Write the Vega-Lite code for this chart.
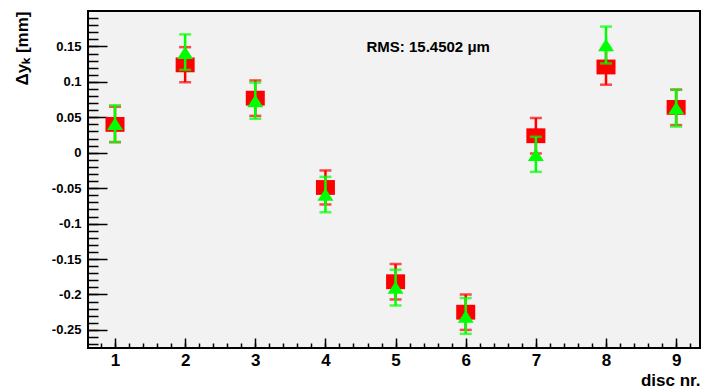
{
  "$schema": "https://vega.github.io/schema/vega-lite/v6.json",
  "width": 612,
  "height": 337,
  "autosize": {"type": "none"},
  "padding": {"left": 88, "top": 11, "right": 4, "bottom": 42},
  "background": "white",
  "config": {
    "view": {"fill": "#f2f2f2", "stroke": "black", "strokeWidth": 2},
    "font": "Liberation Sans",
    "axis": {"grid": false, "domain": false, "tickColor": "black", "labelColor": "black", "titleColor": "black", "labelFlush": false, "labelOverlap": false, "tickWidth": 1.5}
  },
  "data": {
    "values": [
      {"disc": 1, "series": "red", "value": 0.040, "lo": 0.015, "hi": 0.065},
      {"disc": 2, "series": "red", "value": 0.124, "lo": 0.0995, "hi": 0.149},
      {"disc": 3, "series": "red", "value": 0.077, "lo": 0.052, "hi": 0.102},
      {"disc": 4, "series": "red", "value": -0.049, "lo": -0.073, "hi": -0.025},
      {"disc": 5, "series": "red", "value": -0.182, "lo": -0.207, "hi": -0.157},
      {"disc": 6, "series": "red", "value": -0.225, "lo": -0.250, "hi": -0.200},
      {"disc": 7, "series": "red", "value": 0.024, "lo": -0.001, "hi": 0.049},
      {"disc": 8, "series": "red", "value": 0.121, "lo": 0.096, "hi": 0.146},
      {"disc": 9, "series": "red", "value": 0.064, "lo": 0.039, "hi": 0.089},
      {"disc": 1, "series": "green", "value": 0.041, "lo": 0.015, "hi": 0.067},
      {"disc": 2, "series": "green", "value": 0.141, "lo": 0.117, "hi": 0.167},
      {"disc": 3, "series": "green", "value": 0.073, "lo": 0.048, "hi": 0.099},
      {"disc": 4, "series": "green", "value": -0.059, "lo": -0.084, "hi": -0.034},
      {"disc": 5, "series": "green", "value": -0.190, "lo": -0.2155, "hi": -0.165},
      {"disc": 6, "series": "green", "value": -0.231, "lo": -0.2555, "hi": -0.205},
      {"disc": 7, "series": "green", "value": -0.003, "lo": -0.027, "hi": 0.0225},
      {"disc": 8, "series": "green", "value": 0.152, "lo": 0.126, "hi": 0.178},
      {"disc": 9, "series": "green", "value": 0.063, "lo": 0.037, "hi": 0.089}
    ]
  },
  "resolve": {"axis": {"x": "independent", "y": "independent"}},
  "layer": [
    {
      "layer": [
        {
          "transform": [{"filter": "datum.series == 'red'"}],
          "mark": {"type": "rule", "color": "#ff0000", "strokeWidth": 2.5},
          "encoding": {
            "x": {"field": "disc", "type": "quantitative", "scale": {"domain": [0.615, 9.34], "nice": false, "zero": false},
              "axis": {"orient": "bottom", "values": [1, 2, 3, 4, 5, 6, 7, 8, 9], "labelExpr": "'' + datum.value", "tickSize": -10, "labelPadding": 14, "labelFontSize": 17, "labelFontWeight": "bold", "title": "disc nr.", "titleFontSize": 17, "titleFontWeight": "bold", "titleAnchor": "end", "titleAlign": "right", "titleX": 612, "titleY": 32, "titleBaseline": "middle"}},
            "y": {"field": "lo", "type": "quantitative", "scale": {"domain": [-0.2755, 0.2], "nice": false, "zero": false},
              "axis": {"orient": "left", "values": [-0.25, -0.2, -0.15, -0.1, -0.05, 0, 0.05, 0.1, 0.15], "labelExpr": "'' + datum.value", "tickSize": -19, "labelPadding": 26, "labelFontSize": 13, "labelFontWeight": "bold", "title": "Δyₖ [mm]", "titleFontSize": 17, "titleFontWeight": "bold", "titleAngle": 270, "titleAnchor": "end", "titleAlign": "right", "titleX": -66, "titleY": 0, "titleBaseline": "middle"}},
            "y2": {"field": "hi"}
          }
        },
        {
          "transform": [{"filter": "datum.series == 'red'"}],
          "mark": {"type": "tick", "orient": "horizontal", "color": "#ff0000", "size": 12, "thickness": 2.5},
          "encoding": {"x": {"field": "disc", "type": "quantitative"}, "y": {"field": "lo", "type": "quantitative"}}
        },
        {
          "transform": [{"filter": "datum.series == 'red'"}],
          "mark": {"type": "tick", "orient": "horizontal", "color": "#ff0000", "size": 12, "thickness": 2.5},
          "encoding": {"x": {"field": "disc", "type": "quantitative"}, "y": {"field": "hi", "type": "quantitative"}}
        },
        {
          "transform": [{"filter": "datum.series == 'red'"}],
          "mark": {"type": "point", "shape": "M -1 -0.78 L 1 -0.78 L 1 0.78 L -1 0.78 Z", "size": 361, "filled": true, "color": "#ff0000", "opacity": 1, "strokeWidth": 0},
          "encoding": {"x": {"field": "disc", "type": "quantitative"}, "y": {"field": "value", "type": "quantitative"}}
        },
        {
          "transform": [{"filter": "datum.series == 'green'"}],
          "mark": {"type": "rule", "color": "#00ff00", "strokeWidth": 2.5},
          "encoding": {"x": {"field": "disc", "type": "quantitative"}, "y": {"field": "lo", "type": "quantitative"}, "y2": {"field": "hi"}}
        },
        {
          "transform": [{"filter": "datum.series == 'green'"}],
          "mark": {"type": "tick", "orient": "horizontal", "color": "#00ff00", "size": 12, "thickness": 2.5},
          "encoding": {"x": {"field": "disc", "type": "quantitative"}, "y": {"field": "lo", "type": "quantitative"}}
        },
        {
          "transform": [{"filter": "datum.series == 'green'"}],
          "mark": {"type": "tick", "orient": "horizontal", "color": "#00ff00", "size": 12, "thickness": 2.5},
          "encoding": {"x": {"field": "disc", "type": "quantitative"}, "y": {"field": "hi", "type": "quantitative"}}
        },
        {
          "transform": [{"filter": "datum.series == 'green'"}],
          "mark": {"type": "point", "shape": "M 0 -0.78 L 1 0.78 L -1 0.78 Z", "size": 256, "filled": true, "color": "#00ff00", "opacity": 1, "strokeWidth": 0},
          "encoding": {"x": {"field": "disc", "type": "quantitative"}, "y": {"field": "value", "type": "quantitative"}}
        }
      ]
    },
    {
      "data": {"values": [{"label": "RMS: 15.4502 μm"}]},
      "mark": {"type": "text", "fontSize": 15, "fontWeight": "bold", "color": "black", "align": "center", "baseline": "middle"},
      "encoding": {
        "text": {"field": "label"},
        "x": {"datum": 5.465, "type": "quantitative", "scale": {"domain": [0.615, 9.34], "nice": false, "zero": false},
          "axis": {"orient": "bottom", "values": [0.8, 1.0, 1.2, 1.4, 1.6, 1.8, 2.0, 2.2, 2.4, 2.6, 2.8, 3.0, 3.2, 3.4, 3.6, 3.8, 4.0, 4.2, 4.4, 4.6, 4.8, 5.0, 5.2, 5.4, 5.6, 5.8, 6.0, 6.2, 6.4, 6.6, 6.8, 7.0, 7.2, 7.4, 7.6, 7.8, 8.0, 8.2, 8.4, 8.6, 8.8, 9.0, 9.2], "tickSize": -5, "labels": false, "title": null}},
        "y": {"datum": 0.149, "type": "quantitative", "scale": {"domain": [-0.2755, 0.2], "nice": false, "zero": false},
          "axis": {"orient": "left", "values": [-0.27, -0.26, -0.25, -0.24, -0.23, -0.22, -0.21, -0.2, -0.19, -0.18, -0.17, -0.16, -0.15, -0.14, -0.13, -0.12, -0.11, -0.1, -0.09, -0.08, -0.07, -0.06, -0.05, -0.04, -0.03, -0.02, -0.01, 0, 0.01, 0.02, 0.03, 0.04, 0.05, 0.06, 0.07, 0.08, 0.09, 0.1, 0.11, 0.12, 0.13, 0.14, 0.15, 0.16, 0.17, 0.18, 0.19], "tickSize": -10, "labels": false, "title": null}}
      }
    }
  ]
}
